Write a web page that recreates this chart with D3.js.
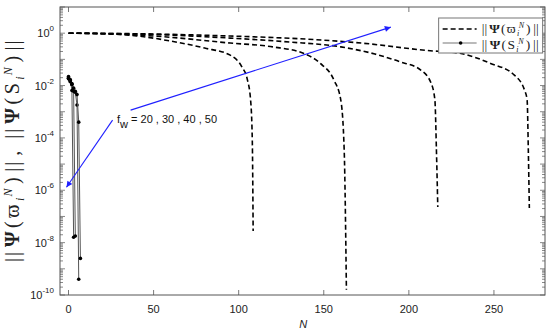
<!DOCTYPE html>
<html>
<head>
<meta charset="utf-8">
<script src="https://cdn.jsdelivr.net/npm/d3@7"></script>
<style>
	body { margin: 0; background: #fff; }
	text { font-family: 'Liberation Sans', Arial, sans-serif; }
	.math { font-family: 'Liberation Serif', 'Times New Roman', serif; }
</style>
</head>
<body>
<svg id="chart" width="550" height="333"></svg>
<script>
const X_TICKS = [0, 50, 100, 150, 200, 250];
const Y_LABEL_EXPS = [0, -2, -4, -6, -8, -10];
const FW_TEXT = ' = 20 , 30 , 40 , 50';

// dashed curves ||Psi(varpi_i^N)||, one per f_w
const varpiN1 = [0, 20, 40, 60, 80, 95, 102, 105, 107, 108, 108.5];
const varpiV1 = [1, 0.955, 0.79, 0.5, 0.27, 0.145, 0.05, 0.018, 0.0028, 8e-5, 2.8e-8];
const varpiN2 = [0, 25, 50, 95, 120, 138, 148, 156, 160, 162, 163.3];
const varpiV2 = [1, 0.93, 0.78, 0.42, 0.3, 0.17, 0.07, 0.016, 0.0028, 3.4e-5, 1.6e-10];
const varpiN3 = [0, 50, 95, 130, 160, 180, 195, 207, 213, 215.3, 216.2, 217];
const varpiV3 = [1, 0.89, 0.65, 0.46, 0.3, 0.16, 0.08, 0.039, 0.0126, 0.0028, 3.4e-5, 2.3e-7];
const varpiN4 = [0, 50, 95, 150, 172, 210, 230, 248, 262, 268, 269.5, 270.2, 270.8];
const varpiV4 = [1, 0.93, 0.78, 0.54, 0.42, 0.22, 0.17, 0.07, 0.025, 0.0066, 0.0028, 3.4e-5, 2.1e-7];

// solid curves with markers ||Psi(S_i^N)||
const sN1 = [0, 1, 2, 3];
const sV1 = [0.022, 0.017, 0.0065, 1.6e-8];
const sN2 = [0, 1, 2, 3, 4];
const sV2 = [0.02, 0.016, 0.011, 0.006, 1.8e-8];
const sN3 = [0, 1, 2, 3, 4, 5, 6];
const sV3 = [0.019, 0.015, 0.012, 0.0075, 0.0055, 0.0018, 4e-10];
const sN4 = [0, 1, 2, 3, 4, 5, 6, 7];
const sV4 = [0.018, 0.014, 0.011, 0.008, 0.006, 0.0045, 4e-4, 2.5e-9];

// annotation anchors in data space [N, value]
const arrowUp = [[36.5, 1.15e-3], [189.4, 1.7]];
const arrowDown = [[25.9, 4.8e-4], [-1.2, 1.3e-6]];
const fwAt = [28.5, 3.6e-4];

const margin = { top: 7, right: 5, bottom: 38, left: 60 };
const width = 550 - margin.left - margin.right;
const height = 333 - margin.top - margin.bottom;

const $svg = d3.select('#chart');
const defs = $svg.append('defs');
defs.append('marker')
	.attr('id', 'head')
	.attr('viewBox', '0 0 10 10')
	.attr('refX', 10)
	.attr('refY', 5)
	.attr('markerWidth', 9)
	.attr('markerHeight', 6)
	.attr('orient', 'auto')
	.attr('markerUnits', 'userSpaceOnUse')
	.append('path')
	.attr('d', 'M0,0 L10,5 L0,10 Z')
	.attr('fill', '#2020ff');

const g = $svg.append('g').attr('transform', `translate(${margin.left},${margin.top})`);

const x = d3.scaleLinear().domain([-5, 280]).range([0, width]);
const y = d3.scaleLog().domain([1e-10, 10]).range([height, 0]);

const axisColor = '#555';

// minor + major ticks on the log axis
const minorTicks = [];
for (let e = -10; e < 1; e++) {
	for (let m = 1; m < 10; m++) minorTicks.push(m * Math.pow(10, e));
}
minorTicks.push(10);

[0, width].forEach((xx, i) => {
	const dir = i === 0 ? 1 : -1;
	g.append('g')
		.selectAll('line')
		.data(minorTicks)
		.join('line')
		.attr('x1', xx)
		.attr('x2', d => xx + dir * (Math.abs(Math.log10(d) % 1) < 1e-9 ? 5 : 3))
		.attr('y1', d => y(d))
		.attr('y2', d => y(d))
		.attr('stroke', axisColor)
		.attr('stroke-width', 0.7);
});

[0, height].forEach((yy, i) => {
	const dir = i === 0 ? 1 : -1;
	g.append('g')
		.selectAll('line')
		.data(X_TICKS)
		.join('line')
		.attr('x1', d => x(d))
		.attr('x2', d => x(d))
		.attr('y1', yy)
		.attr('y2', yy + dir * 5)
		.attr('stroke', axisColor)
		.attr('stroke-width', 0.8);
});

g.append('rect')
	.attr('width', width)
	.attr('height', height)
	.attr('fill', 'none')
	.attr('stroke', axisColor)
	.attr('stroke-width', 1);

// x tick labels
g.append('g')
	.selectAll('text')
	.data(X_TICKS)
	.join('text')
	.attr('x', d => x(d))
	.attr('y', height + 18)
	.attr('text-anchor', 'middle')
	.attr('font-size', 11)
	.attr('fill', '#222')
	.text(d => d);

g.append('text')
	.attr('x', x(138))
	.attr('y', height + 33)
	.attr('text-anchor', 'middle')
	.attr('font-size', 11)
	.attr('font-style', 'italic')
	.attr('fill', '#222')
	.text('N');

// y tick labels
const $yl = g.append('g')
	.selectAll('text')
	.data(Y_LABEL_EXPS)
	.join('text')
	.attr('x', -6)
	.attr('y', d => y(Math.pow(10, d)) + 4)
	.attr('text-anchor', 'end')
	.attr('font-size', 11)
	.attr('fill', '#222');
$yl.append('tspan').text('10');
$yl.append('tspan')
	.attr('dy', -6)
	.attr('font-size', 8)
	.text(d => (d < 0 ? '-' + (-d) : d));

function normParts($t, sym, fs) {
	$t.append('tspan').attr('letter-spacing', -fs * 0.08).text('||');
	$t.append('tspan').attr('dx', fs * 0.15).attr('font-weight', 'bold').text('\u03A8');
	$t.append('tspan').text('(' + sym);
	$t.append('tspan').attr('font-size', fs * 0.6).attr('font-style', 'italic')
		.attr('dy', fs * 0.25).text('i');
	$t.append('tspan').attr('font-size', fs * 0.6).attr('font-style', 'italic')
		.attr('dy', -fs * 0.62).attr('dx', -fs * 0.12).text('N');
	$t.append('tspan').attr('dy', fs * 0.37).attr('dx', fs * 0.05).text(')');
	$t.append('tspan').attr('dx', fs * 0.1).attr('letter-spacing', -fs * 0.08).text('||');
}

// y axis title
const $yt = $svg.append('text')
	.attr('class', 'math')
	.attr('transform', 'translate(19,152) rotate(-90)')
	.attr('text-anchor', 'middle')
	.attr('font-size', 20)
	.attr('textLength', 220)
	.attr('lengthAdjust', 'spacing')
	.attr('fill', '#222');
normParts($yt, '\u03D6', 20);
$yt.append('tspan').attr('dx', 4).text(', ');
normParts($yt, 'S', 20);

// dashed curves
const line = d3.line()
	.x(d => x(d[0]))
	.y(d => y(d[1]))
	.curve(d3.curveMonotoneX);

const varpiSeries = [
	[varpiN1, varpiV1],
	[varpiN2, varpiV2],
	[varpiN3, varpiV3],
	[varpiN4, varpiV4]
].map(([n, v]) => n.map((d, i) => [d, v[i]]));

g.append('g')
	.selectAll('path')
	.data(varpiSeries)
	.join('path')
	.attr('d', line)
	.attr('fill', 'none')
	.attr('stroke', '#000')
	.attr('stroke-width', 1.6)
	.attr('stroke-dasharray', '5,3');

// solid curves with markers
const sSeries = [
	[sN1, sV1],
	[sN2, sV2],
	[sN3, sV3],
	[sN4, sV4]
].map(([n, v]) => n.map((d, i) => [d, v[i]]));

const straight = d3.line().x(d => x(d[0])).y(d => y(d[1]));
const $s = g.append('g').selectAll('g').data(sSeries).join('g');
$s.append('path')
	.attr('d', straight)
	.attr('fill', 'none')
	.attr('stroke', '#555')
	.attr('stroke-width', 1);
$s.selectAll('circle')
	.data(d => d)
	.join('circle')
	.attr('cx', d => x(d[0]))
	.attr('cy', d => y(d[1]))
	.attr('r', 1.8)
	.attr('fill', '#000');

// legend
const $lg = g.append('g').attr('transform', `translate(${x(217.5)},11)`);
$lg.append('rect')
	.attr('width', 104)
	.attr('height', 35)
	.attr('fill', '#fff')
	.attr('stroke', '#777')
	.attr('stroke-width', 1);
$lg.append('line')
	.attr('x1', 4).attr('x2', 38).attr('y1', 11).attr('y2', 11)
	.attr('stroke', '#000').attr('stroke-width', 1.6).attr('stroke-dasharray', '5,3');
$lg.append('line')
	.attr('x1', 4).attr('x2', 38).attr('y1', 25).attr('y2', 25)
	.attr('stroke', '#777').attr('stroke-width', 1.2);
$lg.append('circle').attr('cx', 22).attr('cy', 25).attr('r', 1.8).attr('fill', '#000');
const $l1 = $lg.append('text').attr('class', 'math').attr('x', 43).attr('y', 15)
	.attr('font-size', 13.5).attr('textLength', 56).attr('lengthAdjust', 'spacing')
	.attr('fill', '#222');
normParts($l1, '\u03D6', 13.5);
const $l2 = $lg.append('text').attr('class', 'math').attr('x', 43).attr('y', 31)
	.attr('font-size', 13.5).attr('textLength', 56).attr('lengthAdjust', 'spacing')
	.attr('fill', '#222');
normParts($l2, 'S', 13.5);

// annotation
const $ann = g.append('g');
[arrowUp, arrowDown].forEach(a => {
	$ann.append('line')
		.attr('x1', x(a[0][0]))
		.attr('y1', y(a[0][1]))
		.attr('x2', x(a[1][0]))
		.attr('y2', y(a[1][1]))
		.attr('stroke', '#2020ff')
		.attr('stroke-width', 1.1)
		.attr('marker-end', 'url(#head)');
});
const $fw = $ann.append('text')
	.attr('x', x(fwAt[0]))
	.attr('y', y(fwAt[1]))
	.attr('font-size', 11)
	.attr('fill', '#111');
$fw.append('tspan').text('f');
$fw.append('tspan').attr('dy', 5).text('w');
$fw.append('tspan').attr('dy', -5).text(FW_TEXT);
</script>
</body>
</html>
